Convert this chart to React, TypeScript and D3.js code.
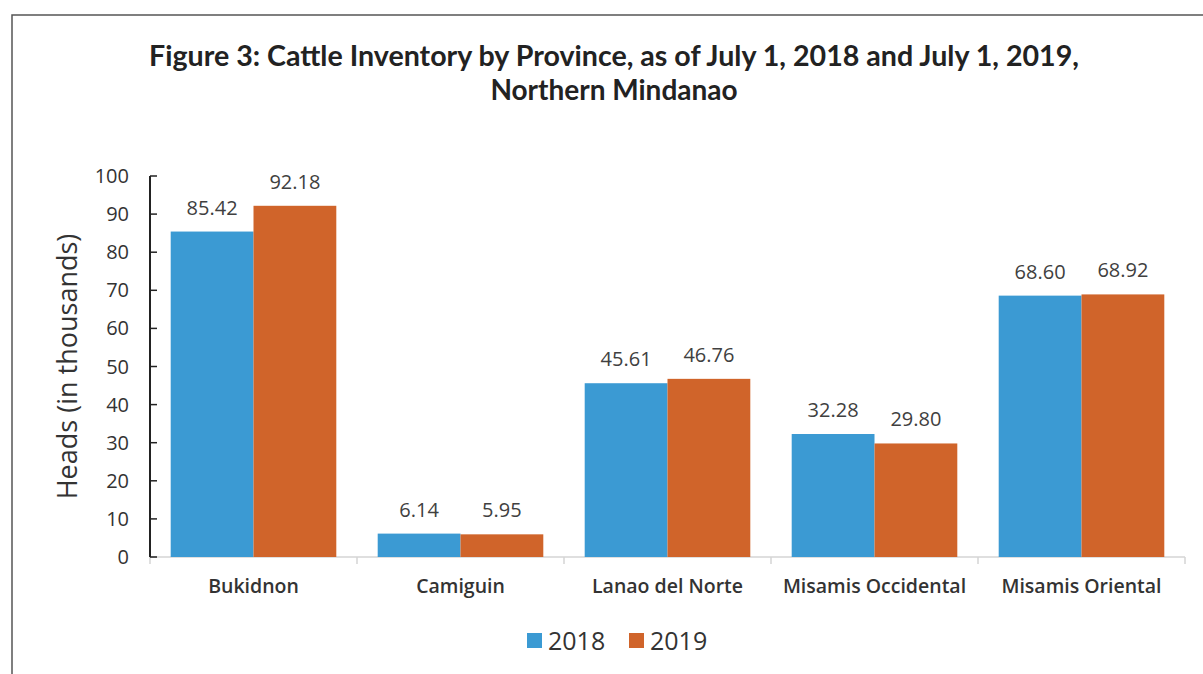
import React from "react";
import * as d3 from "d3";

const categories = ["Bukidnon", "Camiguin", "Lanao del Norte", "Misamis Occidental", "Misamis Oriental"];
const seriesNames = ["2018", "2019"];
const values2018 = [85.42, 6.14, 45.61, 32.28, 68.6];
const values2019 = [92.18, 5.95, 46.76, 29.8, 68.92];
const yTicks = [0, 10, 20, 30, 40, 50, 60, 70, 80, 90, 100];
const colors = ["#3b9ad3", "#d0642a"];

export default function App() {
  const W = 1203, H = 674;
  const x0 = 150, x1 = 1185, yTop = 176, yBot = 557;
  const x = d3.scaleBand<string>().domain(categories).range([x0, x1]).paddingInner(0).paddingOuter(0);
  const xs = d3.scaleBand<string>().domain(seriesNames).range([0, x.bandwidth()]).paddingInner(0).paddingOuter(0.25);
  const y = d3.scaleLinear().domain([0, 100]).range([yBot, yTop]);
  const series = [values2018, values2019];
  const font = "'Open Sans', 'Noto Sans', sans-serif";
  const boundaries = categories.map((c) => x(c)!).concat([x1]);
  return (
    <svg width={W} height={H} style={{ position: "absolute", left: 0, top: 0 }}>
      <rect x={0} y={0} width={W} height={H} fill="#fff" />
      <path d={`M12,${H} L12,15 L${W},15`} fill="none" stroke="#555" strokeWidth={1.5} />
      <text x={614} y={66} textAnchor="middle" fontFamily="Lato, sans-serif" fontWeight="bold" fontSize={28} fill="#222" textLength={930} lengthAdjust="spacingAndGlyphs">
        Figure 3: Cattle Inventory by Province, as of July 1, 2018 and July 1, 2019,
      </text>
      <text x={614} y={100} textAnchor="middle" fontFamily="Lato, sans-serif" fontWeight="bold" fontSize={28} fill="#222">
        Northern Mindanao
      </text>
      {/* x axis */}
      <line x1={x0} x2={x1} y1={yBot} y2={yBot} stroke="#d4d4d4" strokeWidth={1.5} />
      {boundaries.map((b, i) => (
        <line key={i} x1={b} x2={b} y1={yBot} y2={yBot + 7} stroke="#d4d4d4" strokeWidth={1.5} />
      ))}
      {/* bars */}
      {series.map((vals, si) =>
        categories.map((c, ci) => (
          <rect key={`${si}-${ci}`} x={x(c)! + xs(seriesNames[si])!} y={y(vals[ci])} width={xs.bandwidth()} height={yBot - y(vals[ci])} fill={colors[si]} />
        ))
      )}
      {/* data labels */}
      {series.map((vals, si) =>
        categories.map((c, ci) => (
          <text key={`l${si}-${ci}`} x={x(c)! + xs(seriesNames[si])! + xs.bandwidth() / 2} y={y(vals[ci]) - 17} textAnchor="middle" fontFamily={font} fontSize={20} fill="#404040">
            {vals[ci].toFixed(2)}
          </text>
        ))
      )}
      {/* y axis */}
      <line x1={x0} x2={x0} y1={yTop} y2={yBot} stroke="#222" strokeWidth={2} />
      {yTicks.map((t) => (
        <g key={t}>
          <line x1={x0} x2={x0 + 7} y1={y(t)} y2={y(t)} stroke="#222" strokeWidth={1.5} />
          <text x={x0 - 21} y={y(t)} dy="0.35em" textAnchor="end" fontFamily={font} fontSize={20} fill="#333">{t}</text>
        </g>
      ))}
      <text transform={`translate(77,${(yTop + yBot) / 2}) rotate(-90)`} textAnchor="middle" fontFamily={font} fontSize={27} fill="#333">
        Heads (in thousands)
      </text>
      {categories.map((c) => (
        <text key={c} x={x(c)! + x.bandwidth() / 2} y={593} textAnchor="middle" fontFamily={font} fontSize={19.5} fontWeight={600} fill="#333">
          {c}
        </text>
      ))}
      {/* legend */}
      {seriesNames.map((s, i) => (
        <g key={s} transform={`translate(${527 + i * 102},633)`}>
          <rect x={0} y={0} width={15} height={15} fill={colors[i]} />
          <text x={21} y={8} dy="0.37em" fontFamily={font} fontSize={25} fill="#333">{s}</text>
        </g>
      ))}
    </svg>
  );
}
